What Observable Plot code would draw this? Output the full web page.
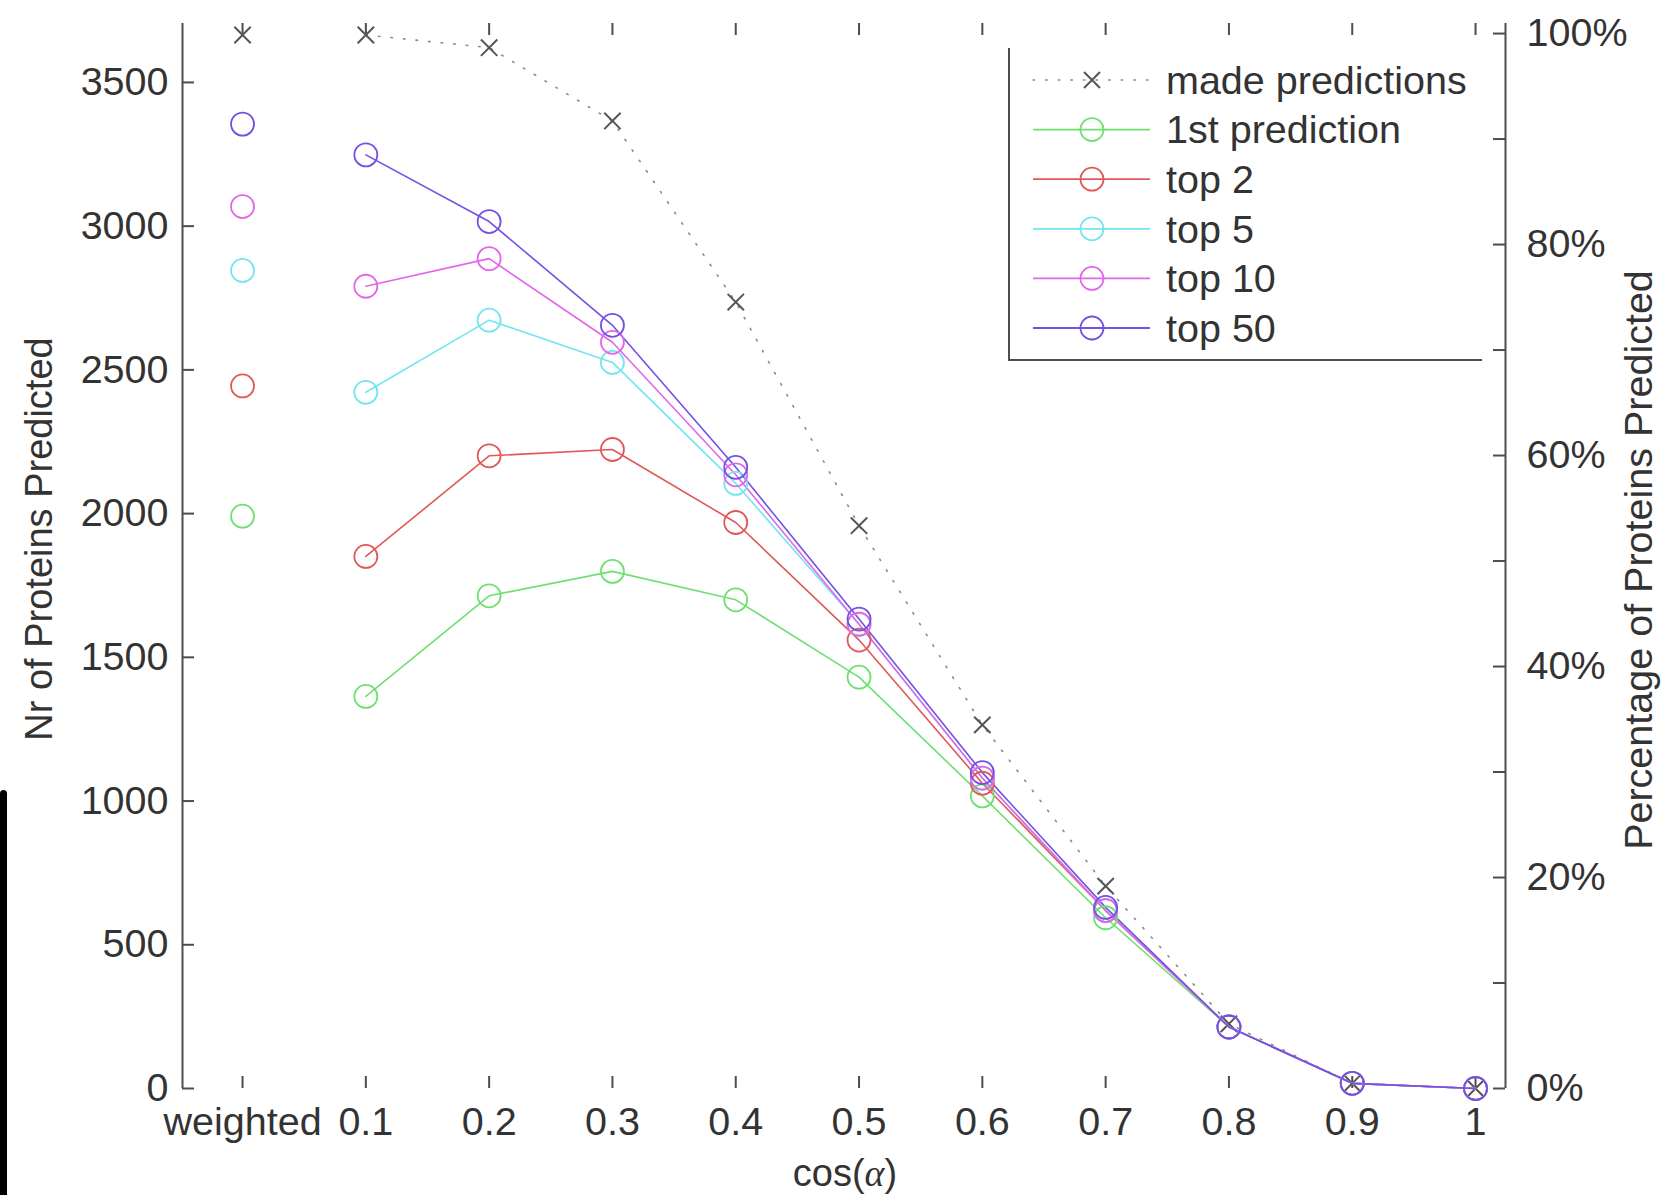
<!DOCTYPE html>
<html>
<head>
<meta charset="utf-8">
<script src="https://cdn.jsdelivr.net/npm/d3@7"></script>
<script src="https://cdn.jsdelivr.net/npm/@observablehq/plot@0.6"></script>
<style>
  html, body { margin: 0; padding: 0; background: #fff; }
  #chart { position: relative; width: 1662px; height: 1195px; overflow: hidden; }
  #edge { position: absolute; left: 0; top: 790px; width: 7px; height: 405px; background: #000; border-radius: 4px 4px 0 0; }
</style>
</head>
<body>
<div id="chart"><div id="edge"></div></div>
<script>
// Similarity threshold positions on the x axis ("weighted" sits left of 0.1)
const xPositions = [0, 0.1, 0.2, 0.3, 0.4, 0.5, 0.6, 0.7, 0.8, 0.9, 1.0];
const xLabels = ["weighted", "0.1", "0.2", "0.3", "0.4", "0.5", "0.6", "0.7", "0.8", "0.9", "1"];
const thresholds = [0.1, 0.2, 0.3, 0.4, 0.5, 0.6, 0.7, 0.8, 0.9, 1.0];

// Number of proteins with any prediction made
const madeWeighted = 3665;
const madePredictions = [3665, 3621, 3366, 2736, 1958, 1265, 704, 225, 18, 0];

// Number of proteins correctly predicted within the top-k
const seriesNames = ["1st prediction", "top 2", "top 5", "top 10", "top 50"];
const seriesColors = ["#6fe06f", "#e05858", "#72e6ee", "#e266ea", "#7450e4"];
const weightedValues = [1991, 2444, 2846, 3068, 3355];
const firstPrediction = [1364, 1714, 1799, 1700, 1431, 1018, 594, 214, 18, 0];
const top2 = [1851, 2201, 2223, 1969, 1560, 1062, 619, 214, 18, 0];
const top5 = [2422, 2673, 2526, 2105, 1615, 1080, 619, 214, 18, 0];
const top10 = [2791, 2887, 2596, 2135, 1615, 1080, 619, 214, 18, 0];
const top50 = [3248, 3016, 2655, 2161, 1633, 1099, 630, 214, 18, 0];
const seriesValues = [firstPrediction, top2, top5, top10, top50];

// Axis ticks
const countTicks = [0, 500, 1000, 1500, 2000, 2500, 3000, 3500];
const percentTicks = [0, 10, 20, 30, 40, 50, 60, 70, 80, 90, 100];
const percentLabels = [0, 20, 40, 60, 80, 100];
const totalProteins = 3670; // 100% on the right-hand axis

// Tables built from the arrays above
const weightedRows = seriesNames.map((name, i) => ({ x: 0, y: weightedValues[i], series: name }));
const lineRows = seriesNames.flatMap((name, i) =>
  thresholds.map((t, j) => ({ x: t, y: seriesValues[i][j], series: name })));
const madeRows = thresholds.map((t, j) => ({ x: t, y: madePredictions[j] }));
const madeWeightedRow = [{ x: 0, y: madeWeighted }];

const W = 1662, H = 1195;
const mL = 182, mR = 157, mT = 23, mB = 107;
const innerW = W - mL - mR, innerH = H - mT - mB;
const xDomain = [-0.0487, 1.0243];
const yDomain = [0, 3705];
const axisColor = "#4d4d4d";
const textColor = "#333";
const fontSize = 39.5;
const font = "'Liberation Sans', Arial, Helvetica, sans-serif";

const color = { domain: seriesNames, range: seriesColors };

const plot = Plot.plot({
  width: W,
  height: H,
  marginLeft: mL,
  marginRight: mR,
  marginTop: mT,
  marginBottom: mB,
  style: { fontFamily: font, fontSize: fontSize + "px", color: textColor, background: "#fff", overflow: "visible" },
  x: { domain: xDomain },
  y: { domain: yDomain },
  color,
  marks: [
    // axis lines (left and right only)
    Plot.ruleX([xDomain[0]], { stroke: axisColor, strokeWidth: 2 }),
    Plot.ruleX([xDomain[1]], { stroke: axisColor, strokeWidth: 2 }),
    // left axis: inward ticks and labels
    Plot.tickY(countTicks, { y: d => d, insetRight: innerW - 12, stroke: axisColor, strokeWidth: 2 }),
    Plot.axisY({ anchor: "left", ticks: countTicks, tickFormat: d => String(d), tickSize: 0, tickPadding: 14, label: null, fill: textColor }),
    // right axis: percentage of all proteins
    Plot.tickY(percentTicks, { y: p => p / 100 * totalProteins, insetLeft: innerW - 12, stroke: axisColor, strokeWidth: 2 }),
    Plot.axisY({
      anchor: "right",
      ticks: percentLabels.map(p => p / 100 * totalProteins),
      tickFormat: v => Math.round(v / totalProteins * 100) + "%",
      tickSize: 0, tickPadding: 21, label: null, fill: textColor
    }),
    // x ticks at bottom and top, pointing inward
    Plot.tickX(xPositions, { x: d => d, insetTop: innerH - 12, stroke: axisColor, strokeWidth: 2 }),
    Plot.tickX(xPositions, { x: d => d, insetBottom: innerH - 12, stroke: axisColor, strokeWidth: 2 }),
    Plot.axisX({
      ticks: xPositions,
      tickFormat: d => xLabels[Math.round(d * 10)],
      tickSize: 0, tickPadding: 18, label: null, fill: textColor
    }),
    // made predictions: dotted line with x markers
    Plot.line(madeRows, { x: "x", y: "y", stroke: "#8a8a8a", strokeWidth: 1.6, strokeDasharray: "1.6,11", strokeLinecap: "round" }),
    Plot.dot(madeRows, { x: "x", y: "y", symbol: "times", r: 7.5, stroke: "#555", strokeWidth: 2 }),
    Plot.dot(madeWeightedRow, { x: "x", y: "y", symbol: "times", r: 7.5, stroke: "#555", strokeWidth: 2 }),
    // top-k series: lines over the thresholds, isolated circle for "weighted"
    Plot.line(lineRows, { x: "x", y: "y", z: "series", stroke: "series", strokeWidth: 1.6 }),
    Plot.dot(lineRows, { x: "x", y: "y", stroke: "series", r: 11.5, strokeWidth: 1.8 }),
    Plot.dot(weightedRows, { x: "x", y: "y", stroke: "series", r: 11.5, strokeWidth: 1.8 })
  ]
});

const svg = d3.select(plot);

// Axis titles
svg.append("text")
  .attr("transform", "translate(39,539) rotate(-90)")
  .attr("text-anchor", "middle").attr("dy", "0.35em")
  .attr("font-family", font).attr("font-size", 38).attr("fill", textColor)
  .text("Nr of Proteins Predicted");

svg.append("text")
  .attr("transform", "translate(1638,560) rotate(-90)")
  .attr("text-anchor", "middle").attr("dy", "0.35em")
  .attr("font-family", font).attr("font-size", 39.5).attr("fill", textColor)
  .text("Percentage of Proteins Predicted");

const xTitle = svg.append("text")
  .attr("x", 845).attr("y", 1173)
  .attr("text-anchor", "middle").attr("dy", "0.35em")
  .attr("font-family", font).attr("font-size", 38).attr("fill", textColor);
xTitle.append("tspan").text("cos(");
xTitle.append("tspan").attr("font-family", "'Liberation Serif', 'DejaVu Serif', serif").attr("font-style", "italic").text("α");
xTitle.append("tspan").text(")");

// Legend (open box: left and bottom edges)
const lg = svg.append("g").attr("text-anchor", "start");
const lgLeft = 1009, lgTop = 48, lgBottom = 360, lgRight = 1482;
lg.append("path")
  .attr("d", `M${lgLeft},${lgTop}V${lgBottom}H${lgRight}`)
  .attr("fill", "none").attr("stroke", axisColor).attr("stroke-width", 2);

const rowY = i => 80 + i * 49.6;
const sx0 = 1033, sx1 = 1150, mx = 1092, tx = 1166;
const legendEntries = [{ name: "made predictions", made: true }]
  .concat(seriesNames.map((n, i) => ({ name: n, color: seriesColors[i] })));

legendEntries.forEach((e, i) => {
  const y = rowY(i);
  if (e.made) {
    lg.append("line").attr("x1", sx0).attr("x2", sx1).attr("y1", y).attr("y2", y)
      .attr("stroke", "#8a8a8a").attr("stroke-width", 1.6)
      .attr("stroke-dasharray", "1.6,11").attr("stroke-linecap", "round");
    lg.append("path").attr("d", `M${mx - 8},${y - 8}L${mx + 8},${y + 8}M${mx - 8},${y + 8}L${mx + 8},${y - 8}`)
      .attr("stroke", "#555").attr("stroke-width", 2);
  } else {
    lg.append("line").attr("x1", sx0).attr("x2", sx1).attr("y1", y).attr("y2", y)
      .attr("stroke", e.color).attr("stroke-width", 1.8);
    lg.append("circle").attr("cx", mx).attr("cy", y).attr("r", 11.5)
      .attr("fill", "none").attr("stroke", e.color).attr("stroke-width", 1.8);
  }
  lg.append("text").attr("x", tx).attr("y", y).attr("dy", "0.35em")
    .attr("text-anchor", "start")
    .attr("font-family", font).attr("font-size", fontSize).attr("fill", textColor)
    .text(e.name);
});

document.getElementById("chart").appendChild(plot);
</script>
</body>
</html>
